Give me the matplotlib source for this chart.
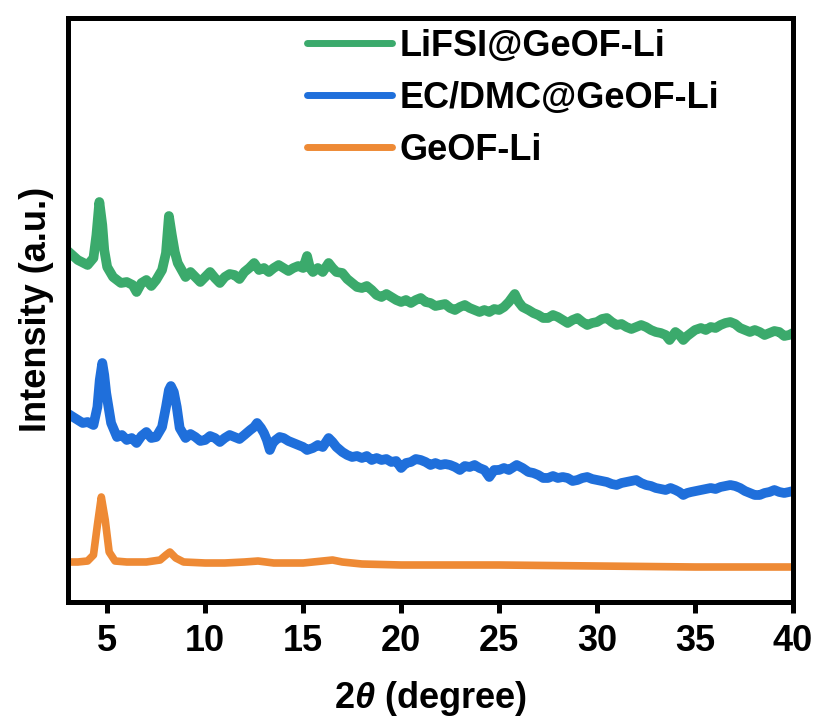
import matplotlib.pyplot as plt
import numpy as np

plt.rcParams['font.family'] = ['Liberation Sans', 'DejaVu Sans']
plt.rcParams['font.weight'] = 'bold'
plt.rcParams['mathtext.fontset'] = 'custom'
plt.rcParams['mathtext.it'] = 'Liberation Sans:italic:bold'
plt.rcParams['mathtext.rm'] = 'Liberation Sans:bold'

# LiFSI@GeOF-Li (top trace), 2theta in degree, intensity in a.u.
green_x = [3.1, 3.5, 4.0, 4.3, 4.45, 4.6, 4.75, 4.85, 5.0, 5.3, 5.7, 6.0, 6.3, 6.5, 6.75,
           7.0, 7.25, 7.5, 7.8, 8.0, 8.15, 8.3, 8.45, 8.6, 9.0, 9.25, 9.5, 9.75, 10.0,
           10.25, 10.5, 10.75, 11.0, 11.25, 11.5, 11.75, 12.0, 12.25, 12.5, 12.75, 13.0,
           13.25, 13.5, 13.75, 14.0, 14.25, 14.5, 14.75, 15.0, 15.2, 15.35, 15.5, 15.75,
           16.0, 16.3, 16.5, 16.7, 17.0, 17.25, 17.5, 17.75, 18.0, 18.25, 18.5, 18.75,
           19.0, 19.25, 19.5, 19.75, 20.0, 20.25, 20.5, 20.75, 21.0, 21.25, 21.5, 21.75,
           22.0, 22.25, 22.5, 22.75, 23.0, 23.25, 23.5, 23.75, 24.0, 24.25, 24.5, 24.75,
           25.0, 25.25, 25.5, 25.8, 26.0, 26.2, 26.5, 26.75, 27.0, 27.25, 27.5, 27.75,
           28.0, 28.25, 28.5, 28.75, 29.0, 29.25, 29.5, 29.75, 30.0, 30.25, 30.5, 30.75,
           31.0, 31.25, 31.5, 31.75, 32.0, 32.25, 32.5, 32.75, 33.0, 33.25, 33.5, 33.7,
           34.0, 34.2, 34.4, 34.6, 34.8, 35.0, 35.3, 35.55, 35.8, 36.05, 36.3, 36.55,
           36.8, 37.05, 37.3, 37.55, 37.8, 38.05, 38.3, 38.55, 38.8, 39.05, 39.3, 39.55,
           39.8, 40.0]
green_y = [349, 342, 337, 344, 367, 400, 377, 352, 335, 325, 319, 320, 317, 310, 319,
           322, 316, 322, 332, 349, 386, 367, 350, 339, 325, 330, 325, 320, 325,
           330, 324, 319, 325, 328, 327, 323, 330, 334, 339, 332, 334,
           330, 334, 337, 334, 331, 334, 336, 334, 346, 334, 330, 334,
           330, 339, 334, 330, 329, 323, 319, 315, 314, 316, 312, 307,
           305, 308, 305, 302, 300, 302, 299, 302, 304, 300, 299, 296,
           297, 298, 294, 292, 295, 297, 294, 292, 290, 292, 290, 293,
           292, 295, 300, 308, 300, 295, 292, 289, 287, 284, 284, 287,
           285, 282, 279, 282, 284, 280, 277, 279, 280, 283, 284, 280,
           277, 278, 275, 273, 275, 277, 275, 272, 270, 269, 267, 262,
           270, 267, 262, 266, 269, 272, 274, 272, 275, 274, 277, 279,
           280, 278, 274, 272, 270, 272, 270, 267, 269, 271, 270, 266,
           267, 269]

# EC/DMC@GeOF-Li (middle trace)
blue_x = [3.1, 3.5, 3.75, 4.0, 4.3, 4.5, 4.62, 4.75, 4.85, 4.95, 5.2, 5.5, 5.75, 6.0,
          6.25, 6.5, 6.75, 7.0, 7.25, 7.5, 7.8, 8.0, 8.15, 8.25, 8.4, 8.55, 8.7, 9.0,
          9.25, 9.5, 9.75, 10.0, 10.25, 10.5, 10.75, 11.0, 11.25, 11.5, 11.75, 12.0,
          12.3, 12.5, 12.65, 12.85, 13.0, 13.15, 13.3, 13.45, 13.6, 13.8, 14.0, 14.25,
          14.5, 14.75, 15.0, 15.2, 15.5, 15.75, 16.0, 16.3, 16.5, 16.7, 17.0, 17.25,
          17.5, 17.75, 18.0, 18.25, 18.5, 18.75, 19.0, 19.25, 19.5, 19.75, 20.0, 20.25,
          20.5, 20.75, 21.0, 21.25, 21.5, 21.75, 22.0, 22.25, 22.5, 22.75, 23.0, 23.25,
          23.5, 23.75, 24.0, 24.25, 24.5, 24.75, 25.0, 25.25, 25.5, 25.9, 26.2, 26.5,
          26.75, 27.0, 27.25, 27.5, 27.75, 28.0, 28.25, 28.5, 28.75, 29.0, 29.25, 29.5,
          29.75, 30.0, 30.25, 30.5, 30.75, 31.0, 31.25, 31.5, 31.75, 32.0, 32.25, 32.5,
          32.75, 33.0, 33.25, 33.5, 33.75, 34.0, 34.2, 34.4, 34.6, 34.8, 35.05, 35.3,
          35.55, 35.8, 36.05, 36.3, 36.55, 36.8, 37.05, 37.3, 37.55, 37.8, 38.05, 38.3,
          38.55, 38.8, 39.05, 39.3, 39.55, 39.8, 40.0]
blue_y = [187, 182, 179, 180, 177, 195, 222, 239, 227, 209, 179, 165, 167, 162,
          164, 159, 166, 170, 164, 165, 175, 195, 212, 216, 210, 195, 174, 164,
          168, 165, 161, 162, 166, 164, 160, 164, 167, 165, 163, 167,
          172, 175, 179, 174, 169, 162, 152, 159, 162, 165, 164, 161,
          159, 157, 155, 152, 154, 157, 155, 164, 160, 155, 150, 147,
          145, 146, 144, 146, 142, 144, 142, 143, 140, 141, 134, 139,
          140, 143, 142, 140, 137, 139, 137, 138, 137, 135, 132, 136,
          135, 137, 134, 132, 125, 132, 132, 134, 132, 137, 134, 130,
          129, 127, 124, 124, 126, 124, 125, 124, 121, 122, 124, 125,
          123, 122, 121, 120, 118, 117, 119, 120, 121, 122, 119, 117,
          116, 114, 113, 112, 114, 112, 110, 107, 109, 110, 111, 112,
          113, 114, 113, 115, 116, 117, 116, 114, 111, 109, 107, 107,
          109, 110, 112, 110, 109, 110, 111]

# GeOF-Li (bottom trace)
orange_x = [3.1, 3.5, 4.0, 4.3, 4.5, 4.7, 4.9, 5.1, 5.4, 6.0, 7.0, 7.7, 8.0, 8.2, 8.5,
            8.9, 10.0, 11.0, 12.0, 12.7, 13.5, 15.0, 16.0, 16.5, 17.0, 18.0, 20.0,
            25.0, 30.0, 35.0, 40.0]
orange_y = [40, 40, 41, 47, 77, 105, 82, 50, 41, 40, 40, 42, 47, 50, 44,
            40, 39, 39, 40, 41, 39, 39, 41, 42, 40, 38, 37,
            37, 36, 35, 35]

labels = ['LiFSI@GeOF-Li', 'EC/DMC@GeOF-Li', 'GeOF-Li']
colors = ['#3BAA6C', '#1F6FDB', '#EE8A35']

fig = plt.figure(figsize=(8.18, 7.25), dpi=100)
ax = fig.add_axes([68 / 818, 1 - 602 / 725, 725 / 818, 584.5 / 725])

ax.plot(green_x, green_y, color=colors[0], lw=7, label=labels[0], solid_joinstyle='round')
ax.plot(blue_x, blue_y, color=colors[1], lw=7, label=labels[1], solid_joinstyle='round')
ax.plot(orange_x, orange_y, color=colors[2], lw=5.5, label=labels[2], solid_joinstyle='round')

ax.set_xlim(3, 40)
ax.set_ylim(0, 584.5)
ax.set_xticks([5, 10, 15, 20, 25, 30, 35, 40])
ax.set_yticks([])
ax.tick_params(axis='x', direction='out', length=8, width=3.6, labelsize=26, pad=8)
for lab in ax.get_xticklabels():
    lab.set_fontweight('bold')
for sp in ax.spines.values():
    sp.set_linewidth(3.6)

ax.set_xlabel(r'2$\theta$ (degree)', fontsize=26, fontweight='bold', labelpad=14)
ax.set_ylabel('Intensity (a.u.)', fontsize=26, fontweight='bold', labelpad=10)

leg = ax.legend(loc='upper left', bbox_to_anchor=(0.33, 0.981), frameon=False,
                fontsize=26, handlelength=2.35, handletextpad=0.2, labelspacing=0.47,
                borderpad=0, borderaxespad=0)
for line in leg.get_lines():
    line.set_linewidth(5)
    line.set_solid_capstyle('round')

fig.savefig('out.png', dpi=100)
